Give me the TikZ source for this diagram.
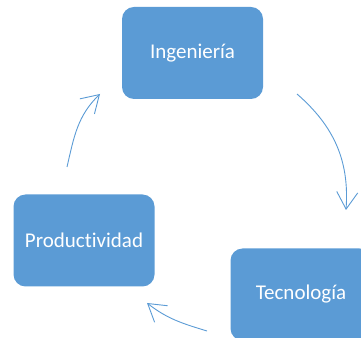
\documentclass[tikz,border=0pt]{standalone}
\usepackage{fontspec}
\setmainfont[Ligatures=NoCommon]{Carlito}
\usetikzlibrary{arrows.meta}
\definecolor{officeblue}{HTML}{5B9BD5}
\begin{document}
\begin{tikzpicture}[
        x=1pt, y=1pt,
        box/.style={fill=officeblue, draw=none, rounded corners=12pt, minimum width=141pt, minimum height=92pt, text=white, font=\fontsize{21}{25}\selectfont},
        cyc/.style={draw=officeblue, line width=0.9pt, -{Straight Barb[length=17pt,width=21pt,line width=0.9pt]}},
    ]
    \useasboundingbox (0,0) rectangle (361,337);

    \node[box](ing) at (192.5,284){Ingeniería};
    \node[box](prod) at (84,96.5){Product\kern0pt ivid\kern0pt ad};
    \node[box](tec) at (301,42.5){Tecnología};

    % ends of the arcs
    \coordinate (a1s) at (297,243);
    \coordinate (a1e) at (346,127);
    \coordinate (a2s) at (207,6);
    \coordinate (a2e) at (147,34);
    \coordinate (a3s) at (67,170);
    \coordinate (a3e) at (100,243);

    \draw[cyc] (a1s) to[out=-41, in=86] (a1e);
    \draw[cyc] (a2s) to[out=163, in=-38] (a2e);
    \draw[cyc] (a3s) to[out=77, in=224] (a3e);

    \end{tikzpicture}
\end{document}
